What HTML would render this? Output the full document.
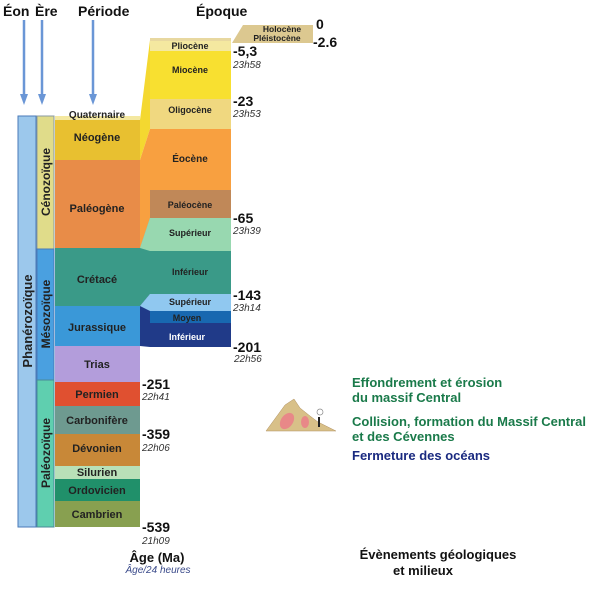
<!DOCTYPE html>
<html><head><meta charset="utf-8"><style>
body{margin:0;background:#fff;width:613px;height:600px;overflow:hidden}
text{font-family:"Liberation Sans",sans-serif}
</style></head><body>
<svg width="613" height="600" xmlns="http://www.w3.org/2000/svg">
<g font-weight="bold" font-size="14" fill="#111">
<text x="3" y="16">Éon</text><text x="35" y="16">Ère</text><text x="78" y="16">Période</text><text x="196" y="16">Époque</text>
</g>
<g stroke="#6a96d6" stroke-width="2.5">
<line x1="24" y1="20" x2="24" y2="97"/>
<line x1="42" y1="20" x2="42" y2="97"/>
<line x1="93" y1="20" x2="93" y2="97"/>
</g>
<g fill="#6a96d6">
<polygon points="20,94 28,94 24,105"/>
<polygon points="38,94 46,94 42,105"/>
<polygon points="89,94 97,94 93,105"/>
</g>
<!-- eon -->
<rect x="18" y="116" width="18" height="411" fill="#9cc8ec" stroke="#4a7ab8"/>
<rect x="37" y="116" width="17" height="133" fill="#e0dc8a" stroke="#8a9aa0"/>
<rect x="37" y="249" width="17" height="131" fill="#4aa0e0" stroke="#4a7ab8"/>
<rect x="37" y="380" width="17" height="147" fill="#5fcfaf" stroke="#4a8a9a"/>
<!-- periods -->
<rect x="55" y="116" width="85" height="4" fill="#f4e8a0"/>
<rect x="55" y="120" width="85" height="40" fill="#e8c030"/>
<rect x="55" y="160" width="85" height="88" fill="#e88c48"/>
<rect x="55" y="248" width="85" height="58" fill="#3a9a88"/>
<rect x="55" y="306" width="85" height="40" fill="#3a98d8"/>
<rect x="55" y="346" width="85" height="36" fill="#b39ddb"/>
<rect x="55" y="382" width="85" height="24" fill="#e05030"/>
<rect x="55" y="406" width="85" height="28" fill="#6e9a90"/>
<rect x="55" y="434" width="85" height="32" fill="#c88838"/>
<rect x="55" y="466" width="85" height="13" fill="#b8e0b8"/>
<rect x="55" y="479" width="85" height="22" fill="#20906a"/>
<rect x="55" y="501" width="85" height="26" fill="#88a050"/>
<!-- wedges -->
<polygon points="140,120 150,40 150,129 140,160" fill="#f4d830"/>
<polygon points="140,160 150,129 150,218 140,248" fill="#f8a040"/>
<polygon points="140,248 150,218 150,294 140,306" fill="#3a9a88"/>
<polygon points="140,248 150,218 150,251" fill="#98d8b0"/>
<polygon points="140,306 150,294 150,347 140,346" fill="#203a88"/>
<polygon points="140,306 150,294 150,311" fill="#90c8f0"/>
<!-- epochs -->
<rect x="150" y="38" width="81" height="3" fill="#e8d8a0"/>
<rect x="150" y="41" width="81" height="10" fill="#f4e8a0"/>
<rect x="150" y="51" width="81" height="48" fill="#f8e030"/>
<rect x="150" y="99" width="81" height="30" fill="#f0d880"/>
<rect x="150" y="129" width="81" height="61" fill="#f8a040"/>
<rect x="150" y="190" width="81" height="28" fill="#c08858"/>
<rect x="150" y="218" width="81" height="33" fill="#98d8b0"/>
<rect x="150" y="251" width="81" height="43" fill="#3a9a88"/>
<rect x="150" y="294" width="81" height="17" fill="#90c8f0"/>
<rect x="150" y="311" width="81" height="12" fill="#1868b0"/>
<rect x="150" y="323" width="81" height="24" fill="#203a88"/>
<polygon points="232,43 243,25 313,25 313,43" fill="#dcc890"/>
<g font-weight="bold" font-size="9" fill="#222" text-anchor="middle">
<text x="282" y="32" font-size="8.5">Holocène</text><text x="277" y="41" font-size="8.5">Pléistocène</text>
<text x="190" y="49">Pliocène</text><text x="190" y="73">Miocène</text><text x="190" y="113">Oligocène</text>
<text x="190" y="162" font-size="10">Éocène</text><text x="190" y="208">Paléocène</text>
<text x="190" y="236">Supérieur</text><text x="190" y="275">Inférieur</text>
<text x="190" y="305">Supérieur</text><text x="187" y="321">Moyen</text><text x="187" y="340" fill="#fff">Inférieur</text>
</g>
<g font-weight="bold" font-size="11" fill="#222" text-anchor="middle">
<text x="97" y="118" font-size="10">Quaternaire</text>
<text x="97" y="141">Néogène</text><text x="97" y="212">Paléogène</text><text x="97" y="283">Crétacé</text>
<text x="97" y="331">Jurassique</text><text x="97" y="368">Trias</text><text x="97" y="398">Permien</text>
<text x="97" y="424">Carbonifère</text><text x="97" y="452">Dévonien</text><text x="97" y="476">Silurien</text>
<text x="97" y="494">Ordovicien</text><text x="97" y="518">Cambrien</text>
</g>
<g font-weight="bold" font-size="12" fill="#222" text-anchor="middle">
<text transform="translate(32,321) rotate(-90)" font-size="13">Phanérozoïque</text>
<text transform="translate(50,182) rotate(-90)">Cénozoïque</text>
<text transform="translate(50,314) rotate(-90)">Mésozoïque</text>
<text transform="translate(50,453) rotate(-90)">Paléozoïque</text>
</g>
<g font-weight="bold" font-size="14" fill="#111">
<text x="316" y="29">0</text><text x="313" y="47">-2.6</text>
<text x="233" y="56">-5,3</text><text x="233" y="106">-23</text><text x="233" y="223">-65</text>
<text x="233" y="300">-143</text><text x="233" y="352">-201</text><text x="142" y="389">-251</text>
<text x="142" y="439">-359</text><text x="142" y="532">-539</text>
</g>
<g font-style="italic" font-size="10" fill="#333">
<text x="233" y="68">23h58</text><text x="233" y="117">23h53</text><text x="233" y="234">23h39</text>
<text x="233" y="311">23h14</text><text x="234" y="362">22h56</text><text x="142" y="400">22h41</text>
<text x="142" y="451">22h06</text><text x="142" y="544">21h09</text>
</g>
<text x="157" y="562" font-weight="bold" font-size="13" text-anchor="middle" fill="#111">Âge (Ma)</text>
<text x="158" y="573" font-style="italic" font-size="10" text-anchor="middle" fill="#3a4a8a">Âge/24 heures</text>
<!-- mountain -->
<polygon points="266,431 285,405 294,399 300,408 310,416 318,422 336,431" fill="#d8c088" stroke="#b09060" stroke-width="0.5"/>
<ellipse cx="287" cy="421" rx="6" ry="9" fill="#e88888" transform="rotate(35 287 421)"/>
<ellipse cx="305" cy="422" rx="4" ry="6" fill="#e88888"/>
<rect x="318" y="417" width="2" height="10" fill="#222"/>
<circle cx="320" cy="412" r="3" fill="none" stroke="#888" stroke-width="0.7"/>
<g font-weight="bold" font-size="13">
<text x="352" y="387" fill="#1a7a4a">Effondrement et érosion</text>
<text x="352" y="402" fill="#1a7a4a">du massif Central</text>
<text x="352" y="426" fill="#1a7a4a">Collision, formation du Massif Central</text>
<text x="352" y="441" fill="#1a7a4a">et des Cévennes</text>
<text x="352" y="460" fill="#1a2a80">Fermeture des océans</text>
<text x="438" y="559" fill="#111" text-anchor="middle">Évènements géologiques</text>
<text x="423" y="575" fill="#111" text-anchor="middle">et milieux</text>
</g>
</svg>
</body></html>
